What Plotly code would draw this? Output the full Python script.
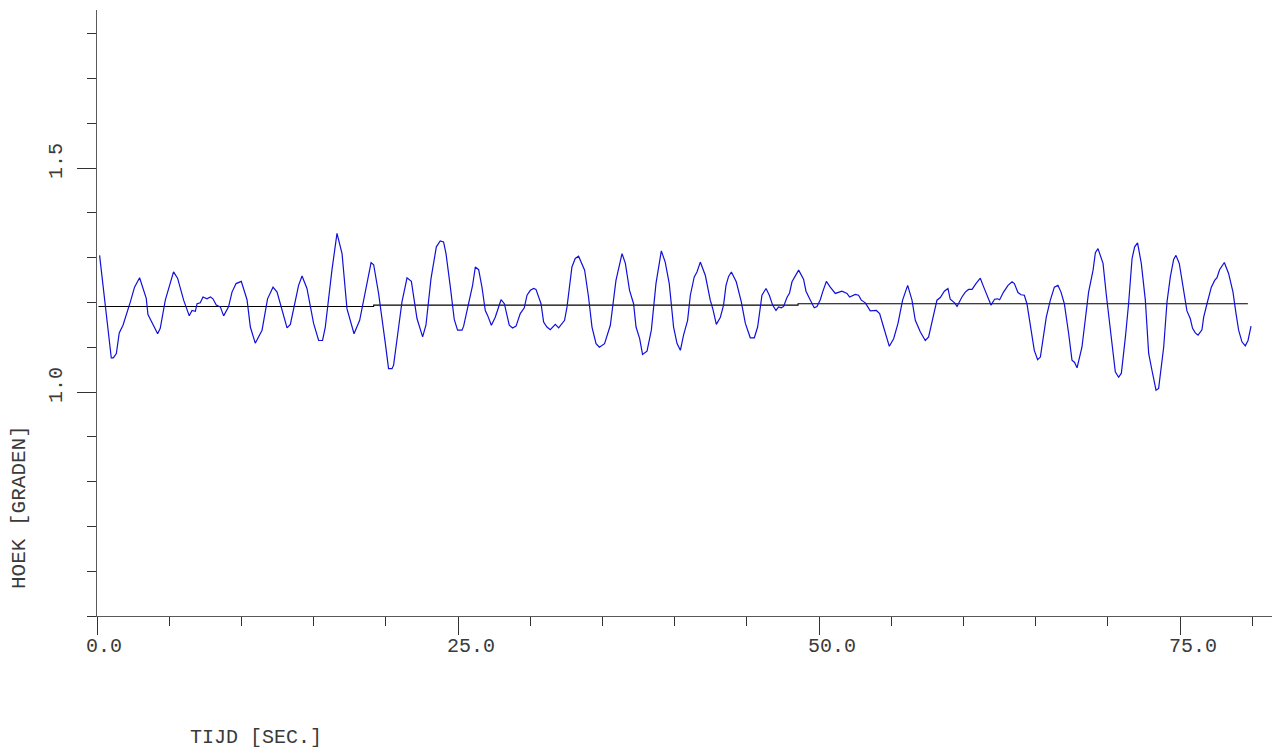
import plotly.graph_objects as go

# --- data ---
tijd = [0.18, 0.99, 1.13, 1.34, 1.54, 1.80, 2.31, 2.60, 2.95, 3.41, 3.53, 4.20, 4.38, 4.73, 5.30, 5.58,
        6.00, 6.39, 6.58, 6.81, 6.93, 7.15, 7.34, 7.62, 7.85, 8.03, 8.26, 8.54, 8.77, 9.11, 9.35, 9.63,
        9.99, 10.39, 10.62, 10.96, 11.43, 11.81, 12.19, 12.47, 13.16, 13.39, 13.96, 14.20, 14.54, 15.00,
        15.35, 15.62, 15.81, 16.27, 16.62, 16.97, 17.31, 17.80, 18.19, 18.46, 18.98, 19.16, 19.50, 19.97,
        20.19, 20.43, 20.54, 20.89, 21.12, 21.47, 21.77, 22.16, 22.55, 22.78, 23.13, 23.50, 23.77, 24.00,
        24.17, 24.47, 24.74, 24.97, 25.28, 25.39, 25.80, 26.01, 26.20, 26.43, 26.66, 26.89, 27.05, 27.31,
        27.58, 27.98, 28.21, 28.39, 28.55, 28.78, 29.02, 29.31, 29.59, 29.78, 30.01, 30.24, 30.40, 30.75,
        30.93, 31.16, 31.39, 31.74, 31.97, 32.38, 32.55, 32.89, 33.12, 33.35, 33.77, 34.04, 34.28, 34.56,
        34.79, 35.15, 35.55, 35.94, 36.36, 36.59, 36.88, 37.16, 37.33, 37.58, 37.78, 38.09, 38.39, 38.71,
        39.08, 39.35, 39.63, 39.93, 40.17, 40.40, 40.62, 40.90, 41.09, 41.36, 41.55, 41.78, 42.13, 42.47,
        42.66, 42.89, 43.17, 43.39, 43.56, 43.74, 43.93, 44.27, 44.62, 44.90, 45.24, 45.52, 45.75, 46.05,
        46.33, 46.56, 46.79, 47.02, 47.20, 47.39, 47.55, 47.78, 47.96, 48.13, 48.59, 48.93, 49.10, 49.35,
        49.67, 49.86, 50.09, 50.25, 50.51, 50.78, 51.13, 51.59, 51.94, 52.12, 52.51, 52.74, 52.93, 53.21,
        53.55, 53.97, 54.20, 54.47, 54.87, 55.17, 55.47, 55.79, 56.14, 56.44, 56.67, 57.02, 57.36, 57.59,
        57.89, 58.17, 58.40, 58.68, 58.93, 59.09, 59.39, 59.56, 59.90, 60.13, 60.36, 60.60, 60.87, 61.17,
        61.36, 61.63, 61.91, 62.16, 62.37, 62.51, 62.78, 63.09, 63.37, 63.53, 63.78, 63.99, 64.22, 64.40,
        64.63, 64.91, 65.14, 65.33, 65.74, 66.02, 66.30, 66.55, 66.76, 66.99, 67.29, 67.52, 67.70, 67.87,
        68.21, 68.44, 68.67, 68.98, 69.14, 69.32, 69.67, 69.90, 70.10, 70.33, 70.52, 70.75, 70.94, 71.22,
        71.44, 71.68, 71.86, 72.06, 72.32, 72.60, 72.83, 73.06, 73.34, 73.52, 73.87, 74.10, 74.33, 74.56,
        74.72, 74.95, 75.18, 75.48, 75.71, 75.87, 76.06, 76.25, 76.52, 76.64, 76.87, 77.17, 77.40, 77.56,
        77.74, 78.07, 78.37, 78.67, 78.88, 79.06, 79.29, 79.52, 79.71, 79.92]

hoek = [1.305, 1.076, 1.076, 1.086, 1.132, 1.149, 1.201, 1.234, 1.255, 1.209, 1.173, 1.130, 1.142, 1.205,
        1.268, 1.254, 1.205, 1.170, 1.182, 1.180, 1.197, 1.199, 1.212, 1.208, 1.212, 1.208, 1.194, 1.190,
        1.170, 1.190, 1.223, 1.242, 1.247, 1.206, 1.145, 1.109, 1.138, 1.208, 1.234, 1.223, 1.143, 1.151,
        1.238, 1.259, 1.231, 1.153, 1.115, 1.115, 1.145, 1.272, 1.354, 1.309, 1.186, 1.130, 1.160, 1.205,
        1.289, 1.284, 1.220, 1.108, 1.052, 1.052, 1.060, 1.145, 1.201, 1.255, 1.247, 1.164, 1.123, 1.149,
        1.253, 1.324, 1.337, 1.335, 1.309, 1.234, 1.162, 1.138, 1.138, 1.147, 1.212, 1.238, 1.279, 1.273,
        1.234, 1.182, 1.171, 1.149, 1.167, 1.206, 1.197, 1.175, 1.149, 1.143, 1.147, 1.175, 1.188, 1.216,
        1.227, 1.231, 1.229, 1.197, 1.156, 1.145, 1.139, 1.151, 1.143, 1.160, 1.190, 1.279, 1.298, 1.303,
        1.272, 1.212, 1.145, 1.108, 1.100, 1.108, 1.149, 1.249, 1.309, 1.287, 1.227, 1.197, 1.145, 1.119,
        1.084, 1.091, 1.138, 1.242, 1.315, 1.290, 1.242, 1.145, 1.108, 1.093, 1.127, 1.160, 1.216, 1.257,
        1.268, 1.290, 1.260, 1.205, 1.184, 1.151, 1.167, 1.194, 1.238, 1.258, 1.268, 1.246, 1.201, 1.153,
        1.121, 1.121, 1.145, 1.216, 1.231, 1.216, 1.194, 1.182, 1.190, 1.188, 1.191, 1.211, 1.221, 1.246,
        1.272, 1.252, 1.225, 1.208, 1.188, 1.191, 1.206, 1.223, 1.247, 1.234, 1.220, 1.225, 1.220, 1.212,
        1.218, 1.216, 1.205, 1.199, 1.181, 1.182, 1.175, 1.145, 1.102, 1.119, 1.153, 1.205, 1.238, 1.205,
        1.160, 1.134, 1.115, 1.123, 1.167, 1.205, 1.211, 1.225, 1.231, 1.207, 1.199, 1.191, 1.212, 1.223,
        1.229, 1.229, 1.242, 1.254, 1.238, 1.216, 1.194, 1.207, 1.208, 1.206, 1.223, 1.238, 1.246, 1.242,
        1.222, 1.217, 1.216, 1.197, 1.145, 1.093, 1.072, 1.078, 1.167, 1.205, 1.234, 1.238, 1.223, 1.197,
        1.130, 1.071, 1.066, 1.054, 1.100, 1.160, 1.223, 1.272, 1.311, 1.320, 1.287, 1.216, 1.160, 1.108,
        1.045, 1.033, 1.042, 1.123, 1.197, 1.298, 1.324, 1.333, 1.287, 1.205, 1.086, 1.048, 1.004, 1.008,
        1.100, 1.201, 1.257, 1.296, 1.305, 1.287, 1.238, 1.181, 1.164, 1.142, 1.132, 1.127, 1.139, 1.167,
        1.197, 1.234, 1.249, 1.255, 1.273, 1.289, 1.264, 1.223, 1.175, 1.138, 1.112, 1.103, 1.115, 1.147]

gem_tijd = [0.1, 19.16, 48.55, 79.7]
gem_hoek = [1.191, 1.194, 1.197, 1.197]

x_ticks = [0, 25, 50, 75]
x_labels = ["0.0", "25.0", "50.0", "75.0"]
y_ticks = [1.0, 1.5]
y_labels = ["1.0", "1.5"]

x_title = "TIJD [SEC.]"
y_title = "HOEK [GRADEN]"

# --- layout constants (page pixels; the page body adds an 8px offset) ---
OFF = 8
PAGE_W, PAGE_H = 1280, 749
W, H = PAGE_W - OFF, PAGE_H - OFF
PL, PT, PR, PB = 97, 10, 1278, 616          # plot area in page pixels
ML, MT = PL - OFF, PT - OFF
PW, PH = PR - PL, PB - PT
MR, MB = W - ML - PW, H - MT - PH
X_RANGE = [0, PW / 14.44]
Y_RANGE = [0.5, 0.5 + PH / 448.0]


def px_to_paper_x(px):
    return (px - PL) / PW


def px_to_paper_y(py):
    return (PB - py) / PH


FONT = "Liberation Mono, Courier New, monospace"
TXT = "#3a3a3a"
AX = "#5a5a5a"

fig = go.Figure()
fig.add_trace(go.Scatter(x=gem_tijd, y=gem_hoek, mode="lines", line=dict(color="black", width=1.1, shape="hv"),
                         hoverinfo="skip"))
fig.add_trace(go.Scatter(x=tijd, y=hoek, mode="lines", line=dict(color="#1010d8", width=1.2)))

annotations = []
for v, lab in zip(x_ticks, x_labels):
    annotations.append(dict(x=v, y=0, xref="x", yref="paper", text=lab, showarrow=False,
                            xanchor="left", yanchor="top", xshift=-13, yshift=-17,
                            font=dict(family=FONT, size=20, color=TXT)))
for v, lab in zip(y_ticks, y_labels):
    annotations.append(dict(x=px_to_paper_x(56.5), y=v, xref="paper", yref="y", text=lab, showarrow=False,
                            textangle=-90, xanchor="center", yanchor="middle", yshift=6.5,
                            font=dict(family=FONT, size=20, color=TXT)))
annotations.append(dict(x=px_to_paper_x(256), y=px_to_paper_y(737), xref="paper", yref="paper", text=x_title,
                        showarrow=False, xanchor="center", yanchor="middle",
                        font=dict(family=FONT, size=20, color=TXT)))
annotations.append(dict(x=px_to_paper_x(19), y=px_to_paper_y(507), xref="paper", yref="paper", text=y_title,
                        showarrow=False, textangle=-90, xanchor="center", yanchor="middle", borderpad=0,
                        font=dict(family=FONT, size=21, color=TXT)))

fig.update_layout(
    width=W, height=H, margin=dict(l=ML, r=MR, t=MT, b=MB),
    paper_bgcolor="white", plot_bgcolor="white", showlegend=False,
    annotations=annotations,
    xaxis=dict(range=X_RANGE, showgrid=False, zeroline=False, showline=True, linecolor=AX, linewidth=1,
               tickmode="array", tickvals=x_ticks, ticks="outside", ticklen=18, tickcolor="#333", tickwidth=1,
               showticklabels=False,
               minor=dict(tickmode="linear", tick0=0, dtick=5, ticks="outside", ticklen=9, tickcolor="#333",
                          showgrid=False)),
    yaxis=dict(range=Y_RANGE, showgrid=False, zeroline=False, showline=True, linecolor=AX, linewidth=1,
               tickmode="array", tickvals=y_ticks, ticks="outside", ticklen=19, tickcolor="#333", tickwidth=1,
               showticklabels=False,
               minor=dict(tickmode="linear", tick0=0.5, dtick=0.1, ticks="outside", ticklen=9, tickcolor="#333",
                          showgrid=False)),
)

fig.write_html("out.html")
